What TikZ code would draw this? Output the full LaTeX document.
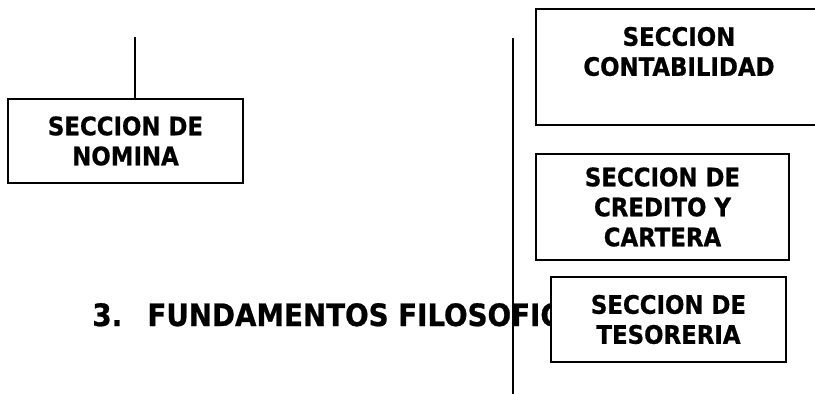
\documentclass[tikz,border=0pt]{standalone}
\usepackage{fontspec}
\setmainfont{DejaVu Sans Condensed}[BoldFeatures={FakeBold=0.8}]
\begin{document}
\begin{tikzpicture}[x=0.5pt,y=-0.5pt,
  boxtxt/.style={font=\bfseries\fontsize{12.7}{15}\selectfont, align=center},
  sbox/.style={draw, line width=1pt, fill=white, inner sep=0pt, boxtxt},
  conn/.style={line width=0.7pt},
  headtxt/.style={font=\bfseries\fontsize{15.4}{18}\selectfont, inner sep=0pt, anchor=base west}]
\useasboundingbox (0,0) rectangle (815,393);
\clip (0,0) rectangle (815,393);
% heading
\node[headtxt] (num) at (92,326) {3.};
\node[headtxt] (head) at (147,326) {FUNDAMENTOS FILOSOFICOS};
% connectors
\coordinate (nomtop) at (135,37);
\coordinate (vtop) at (513,38);
\coordinate (vbot) at (513,395);
\draw[conn] (vtop) -- (vbot);
% boxes
\node[sbox, minimum width=117.5pt, minimum height=42pt] (nomina) at (125.5,141) {SECCION DE\\NOMINA};
\draw[conn] (nomtop) -- (nomtop |- nomina.north);
\node[sbox, minimum width=143pt, minimum height=58pt] (conta) at (679,67) {};
\node[boxtxt, inner sep=0pt, anchor=north] (contatxt) at (679,26.5) {SECCION\\CONTABILIDAD};
\node[sbox, minimum width=126.5pt, minimum height=53pt] (credito) at (662.5,207) {SECCION DE\\CREDITO Y\\CARTERA};
\node[sbox, minimum width=117.5pt, minimum height=42.5pt] (tesoreria) at (668.5,319.5) {SECCION DE\\TESORERIA};
\end{tikzpicture}
\end{document}
